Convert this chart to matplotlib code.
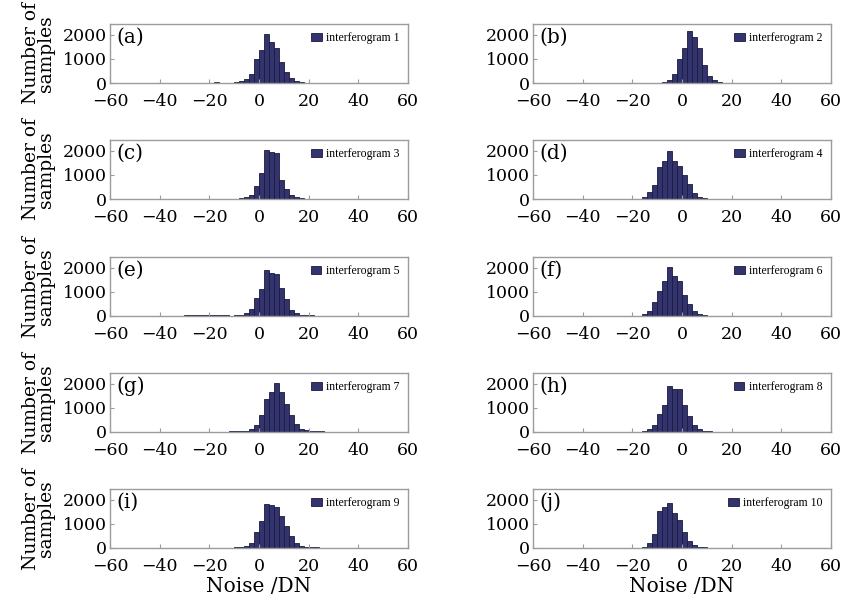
import numpy as np
import matplotlib
matplotlib.use("Agg")
import matplotlib.pyplot as plt

plt.rcParams['font.family'] = ['DejaVu Serif']
plt.rcParams['mathtext.fontset'] = 'dejavuserif'

# left edges of the 2 DN wide noise bins (-30 ... 30)
bin_left = list(range(-30, 32, 2))
bin_width = 2

#            -30 -28 -26 -24 -22 -20 -18 -16 -14 -12 -10  -8   -6   -4   -2    0     2     4     6     8    10   12   14   16  18  20  22  24  26  28  30
counts_1 = [0, 0, 0, 0, 0, 10, 30, 20, 15, 20, 25, 100, 180, 380, 980, 1360, 2020, 1700, 1440, 860, 470, 220, 90, 40, 20, 20, 10, 0, 0, 0, 0]
counts_2 = [0, 0, 0, 0, 0, 0, 0, 10, 15, 15, 20, 40, 120, 360, 980, 1450, 2150, 1920, 1450, 750, 290, 110, 40, 20, 15, 10, 0, 0, 0, 0, 0]
counts_3 = [0, 0, 0, 0, 0, 10, 20, 20, 10, 15, 20, 40, 80, 170, 560, 1070, 2030, 1960, 1910, 800, 400, 150, 70, 30, 20, 10, 0, 0, 0, 0, 0]
counts_4 = [0, 0, 0, 10, 10, 15, 20, 95, 300, 570, 1320, 1560, 2000, 1590, 1390, 980, 610, 230, 95, 40, 20, 15, 10, 10, 10, 5, 0, 0, 0, 0, 0]
counts_5 = [30, 40, 50, 40, 40, 60, 30, 40, 30, 20, 30, 50, 120, 300, 750, 1140, 1900, 1800, 1760, 1160, 710, 260, 120, 60, 40, 30, 20, 0, 0, 0, 0]
counts_6 = [0, 10, 10, 15, 15, 20, 20, 70, 200, 570, 1050, 1460, 2040, 1660, 1460, 880, 500, 200, 95, 40, 20, 10, 10, 0, 0, 0, 0, 0, 0, 0, 0]
counts_7 = [0, 0, 0, 0, 0, 0, 0, 0, 20, 25, 30, 35, 40, 130, 300, 700, 1390, 1660, 2040, 1660, 1160, 700, 340, 130, 70, 50, 40, 30, 20, 0, 0]
counts_8 = [0, 0, 0, 0, 10, 15, 20, 30, 130, 300, 750, 1120, 1910, 1800, 1770, 1120, 680, 300, 130, 50, 30, 20, 10, 0, 0, 0, 0, 0, 0, 0, 0]
counts_9 = [0, 0, 0, 0, 0, 0, 0, 0, 20, 20, 25, 30, 80, 220, 680, 1140, 1820, 1790, 1710, 1340, 900, 500, 220, 80, 30, 25, 25, 20, 20, 20, 15]
counts_10 = [0, 0, 0, 0, 0, 10, 20, 60, 200, 600, 1550, 1700, 1870, 1450, 1150, 650, 300, 120, 50, 30, 20, 20, 15, 10, 10, 0, 0, 0, 0, 0, 0]

all_counts = [counts_1, counts_2, counts_3, counts_4, counts_5,
              counts_6, counts_7, counts_8, counts_9, counts_10]
panel_tags = ['(a)', '(b)', '(c)', '(d)', '(e)', '(f)', '(g)', '(h)', '(i)', '(j)']
legend_names = ['interferogram %d' % (k + 1) for k in range(10)]

x_ticks = [-60, -40, -20, 0, 20, 40, 60]
y_ticks = [0, 1000, 2000]

W, H = 845, 598
fig = plt.figure(figsize=(W / 100, H / 100), dpi=100)

col_left = [110, 533]
col_width = 298
row_top = [24, 140, 257, 373, 489]
row_height = 59

bar_face = '#33336e'
bar_edge = '#1a1a40'
frame_col = '#9c9c9c'

for k in range(10):
    row, col = k // 2, k % 2
    x0 = col_left[col]
    y0 = row_top[row] + row_height
    ax = fig.add_axes([x0 / W, 1 - y0 / H, col_width / W, row_height / H])

    ax.bar(np.array(bin_left) + bin_width / 2, all_counts[k], width=bin_width,
           color=bar_face, edgecolor=bar_edge, linewidth=0.6,
           label=legend_names[k])

    ax.set_xlim(-60, 60)
    ax.set_ylim(0, 2450)
    ax.set_xticks(x_ticks)
    ax.set_yticks(y_ticks)
    ax.set_xticklabels(['\u2212%d' % -t if t < 0 else '%d' % t for t in x_ticks])
    ax.tick_params(direction='in', length=3, width=0.8, color=frame_col,
                   labelsize=12.5, pad=2.5)
    ax.tick_params(axis='x', pad=7.5)
    for s in ax.spines.values():
        s.set_color(frame_col)
        s.set_linewidth(1.0)

    ax.text(0.022, 0.94, panel_tags[k], transform=ax.transAxes,
            fontsize=14.5, ha='left', va='top')

    ax.legend(loc='upper right', frameon=False,
              prop={'family': 'Liberation Serif', 'size': 8.5},
              handlelength=0.9, handleheight=0.6, handletextpad=0.4,
              borderaxespad=0.3)

    if col == 0:
        ax.set_ylabel('Number of\nsamples', fontsize=13.5, labelpad=5,
                      linespacing=0.8)
    if row == 4:
        ax.set_xlabel('Noise /DN', fontsize=14.5, labelpad=1)

fig.savefig('out.png', dpi=100)
